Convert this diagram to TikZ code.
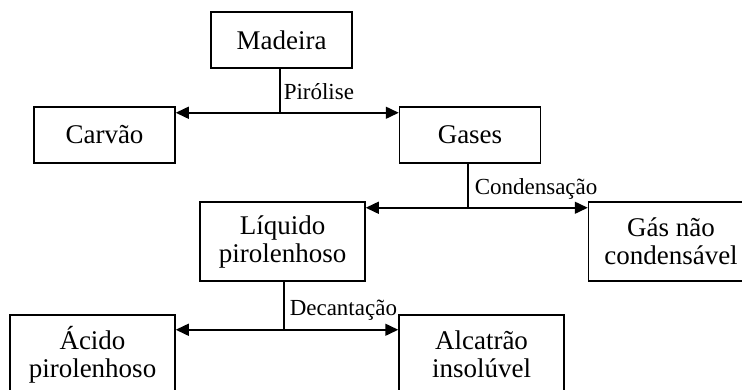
\documentclass[tikz,border=0pt]{standalone}
\usepackage{fontspec}
\setmainfont{Liberation Serif}
\usetikzlibrary{positioning}
\usetikzlibrary{arrows.meta}
\usetikzlibrary{calc}

\begin{document}
\begin{tikzpicture}[x=1pt,y=1pt,on grid,line width=1.5pt,
    box/.style={draw,rectangle,inner sep=0pt,align=center,minimum width=141pt,minimum height=56pt,font=\fontsize{27}{28}\selectfont},
    bigbox/.style={box,minimum width=165pt,minimum height=79pt},
    lbl/.style={anchor=base west,inner sep=0pt,font=\fontsize{23}{24}\selectfont},
    arr/.style={-{Triangle[length=13pt,width=12pt]}}]
   \clip (0,0) rectangle (742,-389);
   \node[box] (madeira) at (281.5,-40) {Madeira};
   \node[box] (carvao) [below left=95pt and 177pt of madeira] {Carv\~ao};
   \node[box] (gases) [below right=95pt and 188.5pt of madeira] {Gases};
   \node[bigbox] (liquido) [below left=106.5pt and 187.5pt of gases] {L\'iquido\\pirolenhoso};
   \node[bigbox] (gas) [right=388.5pt of liquido] {G\'as n\~ao\\condens\'avel};
   \node[bigbox] (acido) [below left=113pt and 190pt of liquido] {\'Acido\\pirolenhoso};
   \node[bigbox] (alcatrao) [right=389pt of acido] {Alcatr\~ao\\insol\'uvel};
   % pirolise
   \coordinate (p1) at ($(madeira.south)+(-1.5,-44)$);
   \draw (madeira.south -| p1) -- (p1);
   \draw[arr] (p1) -- (p1 -| carvao.east);
   \draw[arr] (p1) -- (p1 -| gases.west);
   \node[lbl] (pirolise) at ($(p1)+(3,13)$) {Pir\'olise};
   % condensacao
   \coordinate (p2) at ($(gases.south)+(-2,-44)$);
   \draw (gases.south -| p2) -- (p2);
   \draw[arr] (p2) -- (p2 -| liquido.east);
   \draw[arr] (p2) -- (p2 -| gas.west);
   \node[lbl] (condensacao) at ($(p2)+(6,13)$) {Condensa\c{c}\~ao};
   % decantacao
   \coordinate (p3) at ($(liquido.south)+(1.5,-48)$);
   \draw (liquido.south -| p3) -- (p3);
   \draw[arr] (p3) -- (p3 -| acido.east);
   \draw[arr] (p3) -- (p3 -| alcatrao.west);
   \node[lbl] (decantacao) at ($(p3)+(5,14)$) {Decanta\c{c}\~ao};
\end{tikzpicture}
\end{document}
